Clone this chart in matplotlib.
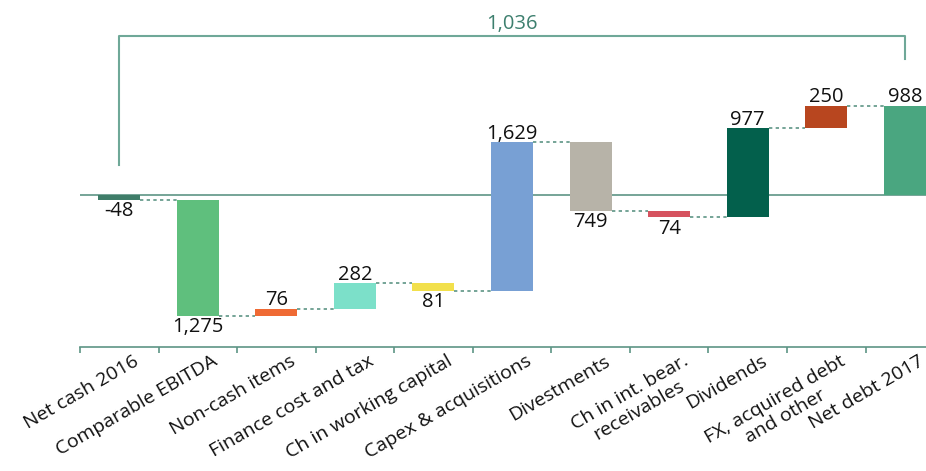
import matplotlib
matplotlib.use("Agg")
import matplotlib.pyplot as plt
from matplotlib.transforms import ScaledTranslation

categories = ["Net cash 2016", "Comparable EBITDA", "Non-cash items",
              "Finance cost and tax", "Ch in working capital",
              "Capex & acquisitions", "Divestments",
              "Ch in int. bear.\nreceivables", "Dividends",
              "FX, acquired debt\nand other", "Net debt 2017"]
# changes (start value, steps, end total)
changes = [-48, -1275, 76, 282, -81, 1629, -749, -74, 977, 250]
end_total = 988
labels = ["-48", "1,275", "76", "282", "81", "1,629", "749", "74", "977", "250", "988"]
bracket_label = "1,036"
colors = ["#3f7d69", "#5fbf7d", "#ef6a34", "#7ce0c9", "#f2e04c", "#78a0d4",
          "#b7b3a8", "#d6535f", "#03604c", "#b8461f", "#4aa680"]

plt.rcParams['font.family'] = ['Open Sans', 'DejaVu Sans']

fig = plt.figure(figsize=(9.26, 4.71), dpi=100)
W, H = 926, 471
ax = fig.add_axes([80 / W, (H - 346.7) / H, (W - 80) / W, 346.7 / H])

# compute waterfall
bottoms, heights = [], []
cum = 0
for i, c in enumerate(changes):
    if i == 0:
        bottoms.append(0); heights.append(c); cum = c
    else:
        bottoms.append(cum); heights.append(c); cum += c
bottoms.append(0); heights.append(end_total)

x = list(range(len(categories)))
bw = 0.535
ax.bar(x, heights, bottom=bottoms, width=bw, color=colors, zorder=3)

line_c = "#5d9585"
# zero line
ax.axhline(0, color=line_c, lw=1.2, zorder=2)

# connectors
levels = [b + h for b, h in zip(bottoms, heights)]
for i in range(len(x) - 1):
    lvl = levels[i]
    ax.plot([x[i] + bw / 2, x[i + 1] - bw / 2], [lvl, lvl], color=line_c,
            lw=1.2, ls=(0, (2, 2)), zorder=2)

# value labels
for i in range(len(x)):
    b, h = bottoms[i], heights[i]
    top, bot = max(b, b + h), min(b, b + h)
    up = (h > 0)
    if up:
        ax.annotate(labels[i], (x[i], top), xytext=(0, -1), textcoords="offset points",
                    ha="center", va="bottom", fontsize=14.5, color="#111111")
    else:
        ax.annotate(labels[i], (x[i], bot), xytext=(0, -1), textcoords="offset points",
                    ha="center", va="top", fontsize=14.5, color="#111111")

# bracket
ytop = 1753
ax.plot([x[0], x[0], x[-1], x[-1]], [335, ytop, ytop, 1495], color="#6fa898",
        lw=1.5, clip_on=False, zorder=2)
ax.text((x[0] + x[-1]) / 2, ytop + 20, bracket_label, ha="center", va="bottom",
        fontsize=14.5, color="#3d7f6e")

ax.set_xlim(-0.5, 10.27)
ax.set_ylim(-1662, 2148)

for s in ["top", "right", "left"]:
    ax.spines[s].set_visible(False)
ax.spines["bottom"].set_color(line_c)
ax.spines["bottom"].set_linewidth(1.2)
ax.set_yticks([])
ax.set_xticks([i - 0.5 for i in range(len(categories))])
ax.tick_params(axis="x", length=4, color=line_c, width=1.2, labelbottom=False)

for i, cat in enumerate(categories):
    t = ax.text(x[i] + 0.17, -1662, cat, rotation=30, rotation_mode="anchor",
                ha="right", va="top", fontsize=14, color="#111111",
                multialignment="center", linespacing=1.1,
                transform=ax.transData + ScaledTranslation(0, -4 / 72, fig.dpi_scale_trans))
    t.set_clip_on(False)

fig.savefig("out.png", dpi=100)
